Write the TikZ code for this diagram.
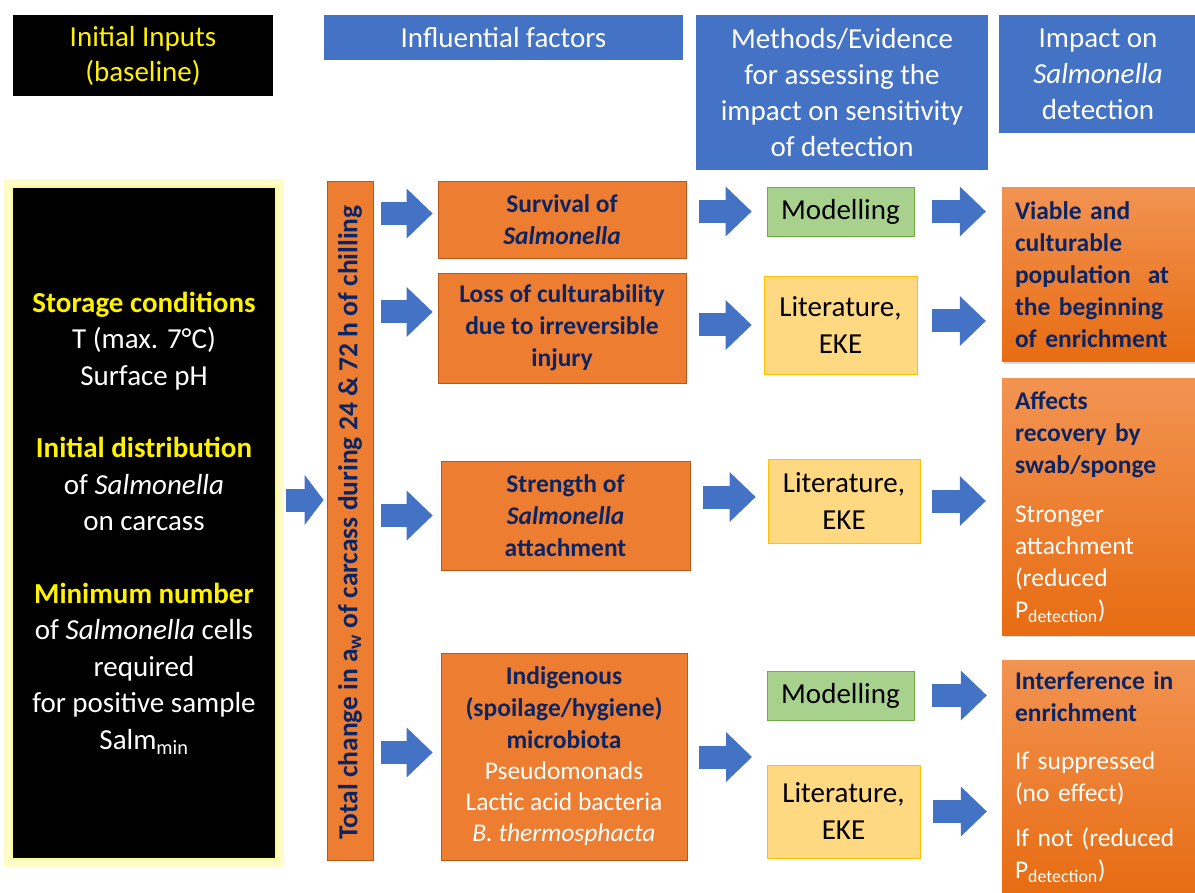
\documentclass[tikz,border=0pt]{standalone}
\usepackage{fontspec}
\setmainfont{Carlito}
\usetikzlibrary{arrows.meta,shadows}

\definecolor{hdrblue}{HTML}{4472C4}
\definecolor{arrblue}{HTML}{4472C4}
\definecolor{fctorange}{HTML}{ED7D31}
\definecolor{fctborder}{HTML}{B8571C}
\definecolor{navy}{HTML}{0A2464}
\definecolor{modgreen}{HTML}{A9D18E}
\definecolor{modborder}{HTML}{70AD47}
\definecolor{litfill}{HTML}{FFD882}
\definecolor{litborder}{HTML}{FFC000}
\definecolor{impTop}{HTML}{F29352}
\definecolor{impBot}{HTML}{E76C12}

\tikzset{
  hdr/.style={fill=hdrblue, text=white, align=center, inner sep=0pt,
    font=\fontsize{29}{36}\selectfont},
  blackhdr/.style={fill=black, text=yellow, align=center, inner sep=0pt,
    font=\fontsize{29}{35}\selectfont},
  inbox/.style={fill=black, text=white, align=center, inner sep=0pt,
    font=\fontsize{29}{36.5}\selectfont},
  factor/.style={fill=fctorange, draw=fctborder, line width=0.8pt, text=navy,
    align=center, inner sep=0pt, font=\fontsize{25.5}{32}\selectfont\bfseries},
  modbox/.style={fill=modgreen, draw=modborder, line width=0.8pt, align=center,
    inner sep=0pt, font=\fontsize{29}{37}\selectfont},
  litbox/.style={fill=litfill, draw=litborder, line width=0.8pt, align=center,
    inner sep=0pt, font=\fontsize{29}{37}\selectfont},
  impbox/.style={top color=impTop, bottom color=impBot, draw=none, text=navy,
    align=left, text width=172pt, inner xsep=13pt, inner ysep=0pt,
    font=\fontsize{25.5}{32}\selectfont\bfseries,
    drop shadow={opacity=0.3, shadow xshift=2pt, shadow yshift=-2pt}},
  blockarr/.style={draw=arrblue, line width=23pt,
    -{Triangle[length=26pt,width=50pt,line width=0pt]}},
  shortarr/.style={draw=arrblue, line width=23pt,
    -{Triangle[length=19pt,width=50pt,line width=0pt]}}
}

\newcommand{\salm}{\textit{Salmonella}}
\newcommand{\wht}[1]{{\mdseries\color{white}#1}}

\begin{document}
\begin{tikzpicture}[x=1pt,y=-1pt]
\useasboundingbox (0,0) rectangle (1195,893);

% column headers
\node[blackhdr, minimum width=260pt, minimum height=81pt] (inhdr) at (143,55.5) {Initial Inputs\\(baseline)};
\node[hdr, minimum width=359pt, minimum height=45pt] (fachdr) at (503.5,37.5) {Influential factors};
\node[hdr, minimum width=292pt, minimum height=155pt] (methdr) at (842,92.5) {Methods/Evidence\\for assessing the\\impact on sensitivity\\of detection};
\node[hdr, minimum width=198pt, minimum height=118pt] (imphdr) at (1098,74) {Impact on\\\salm\\detection};

% initial inputs
\node[inbox, minimum width=262pt, minimum height=670pt] (inbox) at (144,523) {%
  \textcolor{yellow}{\bfseries Storage conditions}\\T (max. 7°C)\\Surface pH\\[36pt]
  \textcolor{yellow}{\bfseries Initial distribution}\\of \salm\\on carcass\\[36pt]
  \textcolor{yellow}{\bfseries Minimum number}\\of \salm{} cells\\required\\for positive sample\\Salm\textsubscript{min}};
\draw[yellow!22, line width=9pt] ([shift={(-4.5,-4.5)}]inbox.north west) rectangle ([shift={(4.5,4.5)}]inbox.south east);
\draw[yellow!45, line width=2pt] ([shift={(-1,-1)}]inbox.north west) rectangle ([shift={(1,1)}]inbox.south east);

% chilling bar
\node[fill=fctorange, draw=fctborder, line width=0.8pt, minimum width=46pt, minimum height=679pt] (bar) at (350,520.5) {};
\node[rotate=90, text=navy, inner sep=0pt, font=\fontsize{27.5}{30}\selectfont\bfseries] (bartxt) at ([yshift=-2pt]bar.center)
  {Total change in a\textsubscript{w} of carcass during 24 \& 72 h of chilling};

% influential factors
\node[factor, minimum width=248pt, minimum height=77pt] (surv) at (562,219.5) {Survival of\\\salm};
\node[factor, minimum width=248pt, minimum height=110pt] (loss) at (562,328) {Loss of culturability\\due to irreversible\\injury};
\node[factor, minimum width=249pt, minimum height=109pt] (strg) at (565.5,515.5) {Strength of\\\salm\\attachment};
\node[factor, minimum width=246pt, minimum height=207pt] (indig) at (564,756.5) {Indigenous\\(spoilage/hygiene)\\microbiota\\[-1pt]
  \wht{Pseudomonads}\\[-1pt]\wht{Lactic acid bacteria}\\[-1pt]\wht{\textit{B. thermosphacta}}};

% methods / evidence
\node[modbox, minimum width=147pt, minimum height=49pt] (mod1) at (840.5,211.5) {Modelling};
\node[litbox, minimum width=153pt, minimum height=98pt] (lit1) at (840.5,325) {Literature,\\EKE};
\node[litbox, minimum width=152pt, minimum height=84pt] (lit2) at (844,501) {Literature,\\EKE};
\node[modbox, minimum width=147pt, minimum height=49pt] (mod2) at (840.5,695.5) {Modelling};
\node[litbox, minimum width=153pt, minimum height=93pt] (lit3) at (843.5,811.5) {Literature,\\EKE};
\coordinate (split) at (752,757);

% impact on detection
\node[impbox, minimum height=174pt] (viab) at (1101,275) {Viable and\\culturable\\population~ at\\the beginning\\of enrichment};
\node[impbox, minimum height=256pt] (affc) at (1101,507) {Affects\\recovery by\\swab/sponge\\[17pt]
  \wht{Stronger}\\\wht{attachment}\\\wht{(reduced}\\\wht{P\textsubscript{detection})}};
\node[impbox, minimum height=235pt] (intf) at (1101,777.5) {Interference in\\enrichment\\[16pt]
  \wht{If suppressed}\\\wht{(no effect)}\\[13pt]\wht{If not (reduced}\\\wht{P\textsubscript{detection})}};

% block arrows
\draw[shortarr, shorten <=11pt, shorten >=3pt] (inbox.east |- 0,500) -- (bar.west |- 0,500);

\draw[blockarr, shorten <=8pt, shorten >=5pt] ([yshift=6pt]bar.east |- surv.west) -- ([yshift=6pt]surv.west);
\draw[blockarr, shorten <=8pt, shorten >=5pt] ([yshift=16pt]bar.east |- loss.west) -- ([yshift=16pt]loss.west);
\draw[blockarr, shorten <=8pt, shorten >=8pt] (bar.east |- strg.west) -- (strg.west);
\draw[blockarr, shorten <=8pt, shorten >=8pt] ([yshift=4pt]bar.east |- indig.west) -- ([yshift=4pt]indig.west);

\draw[blockarr, shorten <=13pt, shorten >=15pt] (surv.east |- mod1.west) -- (mod1.west);
\draw[blockarr, shorten <=13pt, shorten >=12pt] (loss.east |- lit1.west) -- (lit1.west);
\draw[blockarr, shorten <=13pt, shorten >=12pt] ([yshift=4pt]strg.east |- lit2.west) -- ([yshift=4pt]lit2.west);
\draw[blockarr, shorten <=12pt] (indig.east |- split) -- (split);

\draw[blockarr, shorten <=18pt, shorten >=16pt] (mod1.east) -- (viab.west |- mod1.east);
\draw[blockarr, shorten <=15pt, shorten >=16pt] ([yshift=4pt]lit1.east) -- ([yshift=4pt]viab.west |- lit1.east);
\draw[blockarr, shorten <=12pt, shorten >=16pt] (lit2.east) -- (affc.west |- lit2.east);
\draw[blockarr, shorten <=18pt, shorten >=15pt] (mod2.east) -- (intf.west |- mod2.east);
\draw[blockarr, shorten <=13pt, shorten >=15pt] (lit3.east) -- (intf.west |- lit3.east);

\end{tikzpicture}
\end{document}
